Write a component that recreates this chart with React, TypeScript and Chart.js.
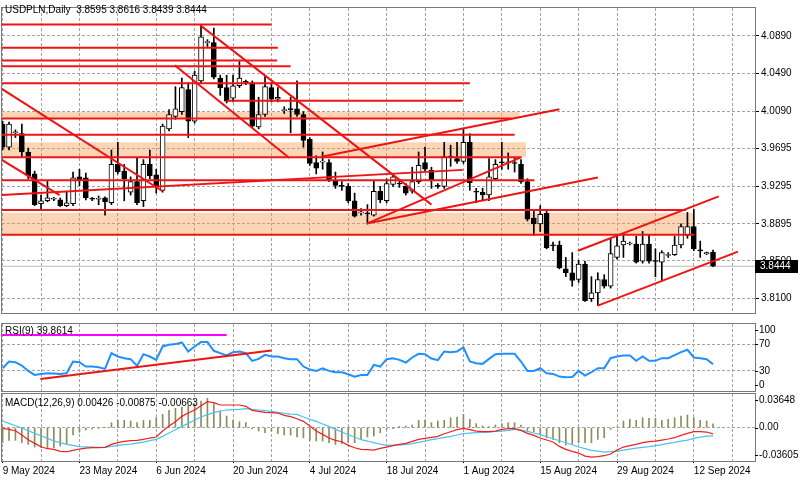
import React, { useEffect, useRef } from 'react';
import { Chart, registerables } from 'chart.js';

Chart.register(...registerables);

const FONT = 'Liberation Sans';
const RED = '#ee1414';
const GRID = '#a4a4a4';
const FRAME = '#7a7a7a';

// ---------- price data (daily bars, index 0 = 9 May 2024) ----------
const OPEN = [
  3.9953, 3.9708, 3.9861, 3.9851, 3.9657, 3.9424, 3.9108, 3.9139, 3.9155, 3.9149,
  3.9088, 3.9108, 3.9393, 3.9383, 3.9159, 3.9155, 3.9169, 3.9118, 3.9525, 3.9454,
  3.9230, 3.9343, 3.9139, 3.9525, 3.9414, 3.9250, 3.9902, 4.0034, 4.0085, 4.0319,
  3.9983, 4.0411, 4.0818, 4.0818, 4.0441, 4.0340, 4.0228, 4.0360, 4.0401, 4.0391,
  3.9922, 4.0055, 4.0340, 4.0217, 4.0095, 4.0110, 4.0116, 4.0055, 3.9790, 3.9545,
  3.9550, 3.9545, 3.9353, 3.9296, 3.9292, 3.9139, 3.9010, 3.9006, 3.8986, 3.9240,
  3.9139, 3.9312, 3.9320, 3.9292, 3.9240, 3.9343, 3.9545, 3.9464, 3.9296, 3.9292,
  3.9607, 3.9586, 3.9556, 3.9759, 3.9235, 3.9230, 3.9200, 3.9373, 3.9545, 3.9541,
  3.9540, 3.9525, 3.9343, 3.8955, 3.8894, 3.9006, 3.8662, 3.8670, 3.8416, 3.8375,
  3.8304, 3.8467, 3.8100, 3.8161, 3.8304, 3.8232, 3.8538, 3.8670, 3.8680, 3.8680,
  3.8497, 3.8680, 3.8500, 3.8487, 3.8558, 3.8568, 3.8670, 3.8772, 3.8864, 3.8611,
  3.8575, 3.8595,
];
const HIGH = [
  3.9983, 3.9973, 3.9892, 3.9953, 3.9698, 3.9454, 3.9200, 3.9353, 3.9175, 3.9169,
  3.9240, 3.9444, 3.9474, 3.9434, 3.9175, 3.9190, 3.9180, 3.9678, 3.9759, 3.9525,
  3.9393, 3.9596, 3.9576, 3.9678, 3.9474, 3.9953, 4.0106, 4.0350, 4.0441, 4.0391,
  4.0513, 4.1001, 4.0849, 4.0971, 4.0472, 4.0472, 4.0472, 4.0615, 4.0421, 4.0411,
  4.0238, 4.0462, 4.0391, 4.0340, 4.0136, 4.0238, 4.0411, 4.0085, 3.9810, 3.9617,
  3.9657, 3.9576, 3.9444, 3.9343, 3.9322, 3.9220, 3.9057, 3.9098, 3.9353, 3.9292,
  3.9373, 3.9424, 3.9353, 3.9322, 3.9495, 3.9657, 3.9708, 3.9495, 3.9322, 3.9759,
  3.9729, 3.9759, 3.9902, 3.9851, 3.9271, 3.9271, 3.9586, 3.9576, 3.9759, 3.9647,
  3.9596, 3.9576, 3.9373, 3.9047, 3.9088, 3.9037, 3.8701, 3.8711, 3.8538, 3.8589,
  3.8507, 3.8497, 3.8334, 3.8375, 3.8355, 3.8731, 3.8762, 3.8782, 3.8701, 3.8762,
  3.8813, 3.8782, 3.8629, 3.8609, 3.8589, 3.8762, 3.8894, 3.9016, 3.9047, 3.8711,
  3.8595, 3.8616,
];
const LOW = [
  3.9678, 3.9678, 3.9810, 3.9607, 3.9373, 3.9088, 3.9047, 3.9128, 3.9140, 3.9077,
  3.9077, 3.9088, 3.9300, 3.9149, 3.9140, 3.9098, 3.8986, 3.9098, 3.9424, 3.9139,
  3.9200, 3.9098, 3.9077, 3.9373, 3.9220, 3.9230, 3.9881, 4.0004, 4.0055, 3.9810,
  3.9963, 4.0391, 4.0777, 4.0431, 4.0258, 4.0177, 4.0187, 4.0340, 4.0370, 3.9912,
  3.9902, 4.0034, 4.0187, 4.0187, 4.0065, 3.9861, 4.0034, 3.9708, 3.9515, 3.9424,
  3.9474, 3.9343, 3.9271, 3.9250, 3.9118, 3.8966, 3.8986, 3.8894, 3.8976, 3.9118,
  3.9118, 3.9292, 3.9281, 3.9200, 3.9220, 3.9322, 3.9454, 3.9271, 3.9271, 3.9271,
  3.9505, 3.9535, 3.9535, 3.9250, 3.9118, 3.9139, 3.9139, 3.9353, 3.9474, 3.9474,
  3.9444, 3.9322, 3.8925, 3.8772, 3.8813, 3.8629, 3.8609, 3.8416, 3.8334, 3.8232,
  3.8273, 3.8070, 3.8070, 3.8029, 3.8212, 3.8212, 3.8518, 3.8538, 3.8670, 3.8477,
  3.8477, 3.8477, 3.8334, 3.8283, 3.8538, 3.8558, 3.8639, 3.8741, 3.8609, 3.8538,
  3.8568, 3.8439,
];
const CLOSE = [
  3.9708, 3.9953, 3.9865, 3.9657, 3.9403, 3.9098, 3.9139, 3.9169, 3.9159, 3.9088,
  3.9118, 3.9383, 3.9363, 3.9169, 3.9155, 3.9159, 3.9128, 3.9525, 3.9444, 3.9373,
  3.9343, 3.9118, 3.9525, 3.9403, 3.9292, 3.9932, 4.0055, 4.0116, 4.0340, 3.9983,
  4.0472, 4.0879, 4.0822, 4.0452, 4.0340, 4.0197, 4.0360, 4.0441, 4.0396, 3.9932,
  4.0055, 4.0350, 4.0217, 4.0238, 4.0100, 4.0106, 4.0055, 3.9780, 3.9535, 3.9484,
  3.9556, 3.9363, 3.9302, 3.9292, 3.9139, 3.8976, 3.9016, 3.9000, 3.9240, 3.9149,
  3.9322, 3.9393, 3.9317, 3.9220, 3.9343, 3.9515, 3.9474, 3.9353, 3.9292, 3.9607,
  3.9603, 3.9556, 3.9759, 3.9332, 3.9230, 3.9200, 3.9393, 3.9525, 3.9541, 3.9545,
  3.9535, 3.9343, 3.8945, 3.8894, 3.8996, 3.8639, 3.8660, 3.8426, 3.8375, 3.8294,
  3.8467, 3.8080, 3.8161, 3.8304, 3.8232, 3.8578, 3.8660, 3.8711, 3.8691, 3.8487,
  3.8680, 3.8497, 3.8495, 3.8589, 3.8563, 3.8670, 3.8864, 3.8864, 3.8629, 3.8607,
  3.8589, 3.8444,
];

// ---------- indicators ----------
const RSI = [
  34, 44, 43, 38, 30, 24, 25.5, 26.5, 26, 25.5,
  26.5, 44, 43, 36.5, 36.5, 35.5, 33, 56.5, 51.5, 49,
  47.5, 37.5, 55, 51.5, 46.5, 66.5, 69, 70, 72.5, 59,
  66.5, 73, 73, 60, 56.5, 53, 58, 59, 56.5, 45,
  48, 54, 51.5, 51.5, 49, 47.5, 47.5, 36.5, 32, 30,
  34, 30, 28, 28, 25, 21.5, 24, 24, 39, 36.5,
  47.5, 49, 46.5, 42.5, 50, 55.5, 55, 48.5, 46, 59,
  58, 59, 65, 44, 41.5, 40.5, 48, 55, 55.5, 55.5,
  55.5, 44, 30, 30, 34, 26.5, 25.5, 21.5, 20.5, 21,
  30, 23, 28, 34, 34, 49, 51.5, 53, 53, 45,
  51.5, 45, 45, 49, 49, 53.5, 58, 61.5, 50, 49,
  47.5, 39.8614,
];
const MACD_LINE = [
  -0.00072, -0.0018, -0.00325, -0.00794, -0.013, -0.01697, -0.02058, -0.02274, -0.02347, -0.02563,
  -0.026, -0.02455, -0.0231, -0.02202, -0.02166, -0.02166, -0.0213, -0.01805, -0.01624, -0.0148,
  -0.01408, -0.01372, -0.01264, -0.01119, -0.01011, -0.00361, 0.0018, 0.0065, 0.01227, 0.01588,
  0.01913, 0.02383, 0.02816, 0.02708, 0.02455, 0.02455, 0.02455, 0.02455, 0.0231, 0.01877,
  0.01769, 0.01661, 0.01624, 0.01588, 0.01336, 0.01191, 0.00975, 0.00686, 0.0018, -0.00361,
  -0.00722, -0.01119, -0.01372, -0.01516, -0.01913, -0.02166, -0.02347, -0.02383, -0.02419, -0.02238,
  -0.02094, -0.01949, -0.01805, -0.01697, -0.0148, -0.01264, -0.01155, -0.01047, -0.00939, -0.0065,
  -0.00433, -0.00217, -0.00072, -0.00217, -0.00361, -0.00433, -0.00433, -0.00361, -0.0018, -0.00108,
  -0.00108, -0.00289, -0.00614, -0.0083, -0.01119, -0.01336, -0.01552, -0.02022, -0.02347, -0.02563,
  -0.02744, -0.03069, -0.03177, -0.03141, -0.03032, -0.02852, -0.02419, -0.02094, -0.01949, -0.01805,
  -0.01624, -0.01516, -0.01444, -0.01336, -0.01227, -0.01083, -0.0083, -0.00614, -0.00433, -0.00433,
  -0.00469, -0.00663,
];
const SIGNAL = [
  0.00722, 0.00469, 0.00217, -0.00036, -0.00325, -0.00614, -0.00866, -0.01155, -0.01444, -0.01624,
  -0.01805, -0.01913, -0.02058, -0.02076, -0.02094, -0.0213, -0.0213, -0.02022, -0.01913, -0.01841,
  -0.01769, -0.01661, -0.01552, -0.01408, -0.01264, -0.00939, -0.00578, -0.00217, 0.00144, 0.00469,
  0.0083, 0.01155, 0.01408, 0.01625, 0.01805, 0.01913, 0.01949, 0.01986, 0.02058, 0.01986,
  0.01913, 0.01841, 0.01769, 0.01661, 0.01552, 0.0148, 0.01444, 0.01155, 0.00903, 0.00686,
  0.00397, 0.00144, -0.0018, -0.00469, -0.00758, -0.01011, -0.013, -0.01444, -0.01624, -0.01769,
  -0.01913, -0.01877, -0.01877, -0.01805, -0.01733, -0.01588, -0.01444, -0.013, -0.01191, -0.01047,
  -0.00939, -0.00794, -0.0065, -0.00578, -0.00542, -0.00505, -0.00469, -0.00397, -0.00361, -0.00289,
  -0.0018, -0.00253, -0.00397, -0.00578, -0.00758, -0.00975, -0.01191, -0.01408, -0.01624, -0.01841,
  -0.02094, -0.02274, -0.02455, -0.02527, -0.02635, -0.02599, -0.02527, -0.02419, -0.0231, -0.02202,
  -0.0213, -0.02058, -0.01949, -0.01841, -0.01697, -0.01588, -0.01444, -0.01336, -0.01155, -0.01011,
  -0.00903, -0.00875,
];
const HIST = [
  -0.01588, -0.01372, -0.01372, -0.01624, -0.01805, -0.02094, -0.02166, -0.02166, -0.02166, -0.01986,
  -0.01733, -0.00794, -0.00505, -0.00253, -0.00144, -0.00072, 0.0, 0.00542, 0.00794, 0.00794,
  0.00722, 0.00542, 0.00794, 0.00794, 0.01083, 0.01444, 0.01877, 0.02094, 0.02238, 0.02347,
  0.026, 0.02888, 0.03177, 0.026, 0.01805, 0.01264, 0.00794, 0.0065, 0.00542, -0.00108,
  -0.00361, -0.00542, -0.00361, -0.0065, -0.00794, -0.00794, -0.01011, -0.01083, -0.01372, -0.01444,
  -0.01444, -0.01624, -0.01805, -0.01733, -0.01624, -0.01624, -0.01264, -0.01011, -0.00903, -0.00542,
  -0.0018, -0.00108, 0.00144, 0.0018, 0.0029, 0.00794, 0.00794, 0.00542, 0.00722, 0.00794,
  0.01083, 0.01155, 0.01444, 0.00903, 0.00433, 0.0018, 0.00108, 0.00289, 0.00433, 0.00542,
  0.00542, 0.00289, -0.00289, -0.00433, -0.00722, -0.01083, -0.01264, -0.01625, -0.01877, -0.01733,
  -0.01625, -0.01625, -0.01625, -0.01264, -0.01083, -0.0018, 0.00072, 0.00722, 0.00903, 0.00794,
  0.01083, 0.01011, 0.01011, 0.00794, 0.00903, 0.01083, 0.01264, 0.01372, 0.01083, 0.00794,
  0.00722, 0.00426,
];

// ---------- axes / ticks ----------
const X_MIN = -0.1;
const X_MAX = 117.56;
const GRID_TICKS = [0, 6, 12, 18, 24, 30, 36, 42, 48, 54, 60, 66, 72, 78, 84, 90, 96, 102, 108, 114];
const DATE_TICKS = [0, 12, 24, 36, 48, 60, 72, 84, 96, 108];
const DATE_LABELS = [
  '9 May 2024', '23 May 2024', '6 Jun 2024', '20 Jun 2024', '4 Jul 2024',
  '18 Jul 2024', '1 Aug 2024', '15 Aug 2024', '29 Aug 2024', '12 Sep 2024',
];
const PRICE_MIN = 3.7948;
const PRICE_MAX = 4.1185;
const PRICE_TICKS = [4.089, 4.049, 4.009, 3.9695, 3.9295, 3.8895, 3.85, 3.81];
const RSI_GRID = [30, 70];
const RSI_LABELS = [100, 70, 30, 0];
const MACD_MIN = -0.03605;
const MACD_MAX = 0.03648;
const MACD_GRID = [0];
const MACD_LABELS = [0.03648, 0, -0.03605];
const MACD_LABEL_TEXT = ['0.03648', '0.00', '-0.03605'];

// ---------- drawn objects: [price, fromBar, toBar] ----------
const H_LINES = [
  [4.1011, -2, 42.0],
  [4.0764, -2, 43.0],
  [4.0628, -2, 42.9],
  [4.0567, -2, 45.0],
  [4.0387, -2, 73.0],
  [4.02, 35.0, 71.9],
  [4.0011, -2, 79.5],
  [3.9841, -2, 80.0],
  [3.9602, -2, 81.1],
  [3.9356, -2, 83.1],
  [3.904, -2, 106.8],
  [3.8779, -2, 108.1],
];
// [top, bottom, fromBar, toBar]
const BANDS = [
  [4.0085, 4.0014, -2, 80.8],
  [3.9759, 3.9607, -2, 81.8],
  [3.9008, 3.8785, -2, 108.1],
];
// [bar1, price1, bar2, price2]
const TREND_LINES = [
  [-0.2, 4.033, 25, 3.924],
  [-0.2, 3.9576, 8.9, 3.92],
  [-0.2, 3.92, 71.9, 3.9467],
  [30.9, 4.1001, 67.0, 3.9098],
  [26.9, 4.0577, 44.8, 3.9593],
  [49.8, 3.9607, 87.0, 4.0111],
  [56.9, 3.8897, 80.9, 3.9597],
  [56.9, 3.8897, 93.0, 3.9386],
  [89.9, 3.8609, 111.9, 3.9186],
  [93.0, 3.8026, 114.9, 3.8599],
];
const RSI_MAGENTA = [-2, 83.5, 35, 83.5];
const RSI_TREND = [5.9, 18, 42, 60.4];

const LAST = CLOSE.length - 1;

// ---------- helpers ----------
const seg = (x1: number, y1: number, x2: number, y2: number, color: string, width: number, order = 1) => ({
  type: 'line',
  data: [{ x: x1, y: y1 }, { x: x2, y: y2 }],
  borderColor: color,
  borderWidth: width,
  pointRadius: 0,
  fill: false,
  tension: 0,
  order,
});

const xScale = (showLabels: boolean) => ({
  type: 'linear',
  min: X_MIN,
  max: X_MAX,
  offset: false,
  afterBuildTicks: (s: any) => {
    s.ticks = GRID_TICKS.map((v) => ({ value: v }));
  },
  afterFit: (s: any) => {
    s.height = showLabels ? 19 : 0;
  },
  grid: {
    color: GRID,
    lineWidth: 1,
    offset: false,
    drawTicks: showLabels,
    tickLength: 2,
    tickColor: (c: any) => (c.tick && DATE_TICKS.includes(c.tick.value) ? '#000' : 'rgba(0,0,0,0)'),
  },
  border: { display: false, dash: [3, 2] },
  ticks: {
    display: showLabels,
    autoSkip: false,
    maxRotation: 0,
    minRotation: 0,
    align: 'start',
    padding: 2,
    color: '#000',
    font: { family: FONT, size: 10 },
    callback: (v: number) => {
      const k = DATE_TICKS.indexOf(v);
      return k >= 0 ? DATE_LABELS[k] : '';
    },
  },
});

const framePlugin = {
  id: 'frame',
  afterDraw(chart: any) {
    const { ctx, chartArea: a } = chart;
    ctx.save();
    ctx.strokeStyle = FRAME;
    ctx.lineWidth = 1;
    ctx.strokeRect(a.left - 0.5, a.top - 0.5, a.right - a.left + 1, a.bottom - a.top + 1);
    ctx.restore();
  },
};

const sideLabels = (values: number[], texts: string[]) => ({
  id: 'sideLabels',
  afterDraw(chart: any) {
    const { ctx, chartArea: a, scales } = chart;
    ctx.save();
    ctx.font = `10px ${FONT}`;
    ctx.fillStyle = '#000';
    ctx.strokeStyle = '#000';
    ctx.lineWidth = 1;
    ctx.textAlign = 'left';
    ctx.textBaseline = 'middle';
    values.forEach((v, k) => {
      const py = Math.min(Math.max(scales.y.getPixelForValue(v), a.top + 6), a.bottom - 6);
      const ly = Math.round(py) + 0.5;
      ctx.beginPath();
      ctx.moveTo(a.right, ly);
      ctx.lineTo(a.right + 3, ly);
      ctx.stroke();
      ctx.fillText(texts[k], a.right + 4, py);
    });
    ctx.restore();
  },
});

const priceTag = {
  id: 'priceTag',
  afterDraw(chart: any) {
    const { ctx, chartArea: a, scales } = chart;
    const py = Math.round(scales.y.getPixelForValue(CLOSE[LAST]));
    ctx.save();
    ctx.fillStyle = '#000';
    ctx.fillRect(a.right, py - 6, 43, 13);
    ctx.fillStyle = '#fff';
    ctx.font = `10px ${FONT}`;
    ctx.textAlign = 'left';
    ctx.textBaseline = 'middle';
    ctx.fillText(CLOSE[LAST].toFixed(4), a.right + 5, py + 0.5);
    ctx.restore();
  },
};

const baseOptions = (padding: any) => ({
  responsive: false,
  maintainAspectRatio: false,
  animation: false,
  events: [],
  layout: { padding },
  plugins: { legend: { display: false }, tooltip: { enabled: false }, title: { display: false } },
});

function mainConfig(): any {
  const bands = BANDS.map(([top, bottom, from, to]) => ({
    type: 'line',
    data: [{ x: from, y: top }, { x: to, y: top }],
    borderWidth: 0,
    borderColor: 'rgba(0,0,0,0)',
    backgroundColor: 'rgba(245,150,70,0.4)',
    pointRadius: 0,
    fill: { value: bottom },
    order: 10,
  }));
  const bid = seg(-2, CLOSE[LAST], 120, CLOSE[LAST], '#b8b8b8', 1, 9);
  const wicks = {
    type: 'bar',
    data: HIGH.map((h, i) => ({ x: i, y: [LOW[i], h] })),
    backgroundColor: '#000',
    borderWidth: 0,
    barThickness: 1,
    grouped: false,
    order: 8,
  };
  const bodies = {
    type: 'bar',
    data: OPEN.map((o, i) => ({ x: i, y: [o, CLOSE[i]] })),
    backgroundColor: OPEN.map((o, i) => (CLOSE[i] >= o ? '#ffffff' : '#000000')),
    borderColor: '#000',
    borderWidth: 1,
    borderSkipped: false,
    barThickness: 5,
    minBarLength: 1,
    grouped: false,
    order: 7,
  };
  const hLines = H_LINES.map(([p, a, b]) => seg(a, p, b, p, RED, 2));
  const trends = TREND_LINES.map(([x1, y1, x2, y2]) => seg(x1, y1, x2, y2, RED, 2));
  return {
    type: 'line',
    data: { datasets: [...bands, bid, wicks, bodies, ...hLines, ...trends] },
    options: {
      ...baseOptions({ left: 2, top: 2, right: 0, bottom: 1 }),
      scales: {
        x: xScale(false),
        y: {
          type: 'linear',
          position: 'right',
          min: PRICE_MIN,
          max: PRICE_MAX,
          afterBuildTicks: (s: any) => {
            s.ticks = PRICE_TICKS.map((v) => ({ value: v }));
          },
          afterFit: (s: any) => {
            s.width = 45;
          },
          grid: { color: GRID, lineWidth: 1, drawTicks: true, tickLength: 4, tickColor: '#000' },
          border: { display: false, dash: [3, 2] },
          ticks: {
            color: '#000',
            padding: 2,
            font: { family: FONT, size: 10 },
            callback: (v: number) => v.toFixed(4),
          },
        },
      },
    },
    plugins: [framePlugin, priceTag],
  };
}

function rsiConfig(): any {
  return {
    type: 'line',
    data: {
      datasets: [
        seg(RSI_MAGENTA[0], RSI_MAGENTA[1], RSI_MAGENTA[2], RSI_MAGENTA[3], '#ff00ff', 2, 3),
        {
          type: 'line',
          data: RSI.map((v, i) => ({ x: i, y: v })),
          borderColor: '#1e90ff',
          borderWidth: 2,
          pointRadius: 0,
          fill: false,
          tension: 0,
          order: 2,
        },
        seg(RSI_TREND[0], RSI_TREND[1], RSI_TREND[2], RSI_TREND[3], RED, 2, 1),
      ],
    },
    options: {
      ...baseOptions({ left: 2, top: 3, right: 0, bottom: 1 }),
      scales: {
        x: xScale(false),
        y: {
          type: 'linear',
          position: 'right',
          min: 0,
          max: 100,
          afterBuildTicks: (s: any) => {
            s.ticks = RSI_GRID.map((v) => ({ value: v }));
          },
          afterFit: (s: any) => {
            s.width = 45;
          },
          grid: { color: GRID, lineWidth: 1, drawTicks: false },
          border: { display: false, dash: [3, 2] },
          ticks: { display: false },
        },
      },
    },
    plugins: [framePlugin, sideLabels(RSI_LABELS, RSI_LABELS.map((v) => String(v)))],
  };
}

function macdConfig(): any {
  return {
    type: 'line',
    data: {
      datasets: [
        {
          type: 'bar',
          data: HIST.map((v, i) => ({ x: i, y: v })),
          backgroundColor: '#8c8c5e',
          borderWidth: 0,
          barThickness: 1,
          grouped: false,
          order: 5,
        },
        {
          type: 'line',
          data: SIGNAL.map((v, i) => ({ x: i, y: v })),
          borderColor: '#4cc3ec',
          borderWidth: 1.2,
          pointRadius: 0,
          fill: false,
          tension: 0,
          order: 2,
        },
        {
          type: 'line',
          data: MACD_LINE.map((v, i) => ({ x: i, y: v })),
          borderColor: '#ee2020',
          borderWidth: 1.2,
          pointRadius: 0,
          fill: false,
          tension: 0,
          order: 1,
        },
      ],
    },
    options: {
      ...baseOptions({ left: 2, top: 2, right: 0, bottom: 0 }),
      scales: {
        x: xScale(true),
        y: {
          type: 'linear',
          position: 'right',
          min: MACD_MIN,
          max: MACD_MAX,
          afterBuildTicks: (s: any) => {
            s.ticks = MACD_GRID.map((v) => ({ value: v }));
          },
          afterFit: (s: any) => {
            s.width = 45;
          },
          grid: { color: GRID, lineWidth: 1, drawTicks: false },
          border: { display: false, dash: [3, 2] },
          ticks: { display: false },
        },
      },
    },
    plugins: [framePlugin, sideLabels(MACD_LABELS, MACD_LABEL_TEXT)],
  };
}

const textStyle = (left: number, top: number): React.CSSProperties => ({
  position: 'absolute',
  left,
  top,
  font: `10px "${FONT}"`,
  lineHeight: '12px',
  color: '#000',
  whiteSpace: 'pre',
  pointerEvents: 'none',
});

export default function App() {
  const mainRef = useRef<HTMLCanvasElement>(null);
  const rsiRef = useRef<HTMLCanvasElement>(null);
  const macdRef = useRef<HTMLCanvasElement>(null);

  useEffect(() => {
    Chart.defaults.font.family = FONT;
    Chart.defaults.font.size = 10;
    Chart.defaults.color = '#000';
    const charts = [
      new Chart(mainRef.current as HTMLCanvasElement, mainConfig()),
      new Chart(rsiRef.current as HTMLCanvasElement, rsiConfig()),
      new Chart(macdRef.current as HTMLCanvasElement, macdConfig()),
    ];
    return () => charts.forEach((c) => c.destroy());
  }, []);

  const header = `USDPLN,Daily  ${OPEN[LAST].toFixed(4)} ${HIGH[LAST].toFixed(4)} ${LOW[LAST].toFixed(4)} ${CLOSE[LAST].toFixed(4)}`;
  const rsiText = `RSI(9) ${RSI[LAST].toFixed(4)}`;
  const macdText = `MACD(12,26,9) ${HIST[LAST].toFixed(5)} ${SIGNAL[LAST].toFixed(5)} ${MACD_LINE[LAST].toFixed(5)}`;

  return (
    <div
      style={{
        position: 'fixed',
        left: 0,
        top: 0,
        width: 800,
        height: 480,
        background: '#fff',
        overflow: 'hidden',
      }}
    >
      <canvas ref={mainRef} width={800} height={321} style={{ position: 'absolute', left: 0, top: 0, width: 800, height: 321 }} />
      <canvas ref={rsiRef} width={800} height={71} style={{ position: 'absolute', left: 0, top: 321, width: 800, height: 71 }} />
      <canvas ref={macdRef} width={800} height={88} style={{ position: 'absolute', left: 0, top: 392, width: 800, height: 88 }} />
      <div style={textStyle(5, 4)}>{header}</div>
      <div style={textStyle(5, 325)}>{rsiText}</div>
      <div style={textStyle(5, 397)}>{macdText}</div>
    </div>
  );
}
